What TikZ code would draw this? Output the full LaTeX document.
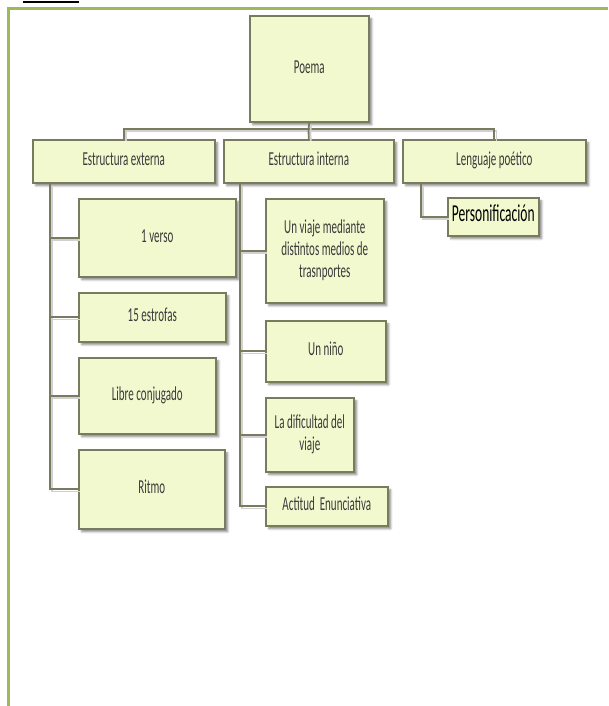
\documentclass[tikz,border=0pt]{standalone}
\usepackage{fontspec}
\setmainfont{Carlito}
\usetikzlibrary{shadows.blur,calc}
\definecolor{boxfill}{HTML}{F2F9CF}
\definecolor{boxline}{HTML}{7A7B5E}
\definecolor{boxtext}{HTML}{3A3A3A}
\definecolor{pageframe}{HTML}{9BBB59}
% text set in Carlito and stretched vertically
\newcommand{\talltext}[2][11]{\scalebox{1}[1.8]{\fontsize{#1}{12.2}\selectfont\begin{tabular}{@{}c@{}}#2\end{tabular}}}
\begin{document}
\begin{tikzpicture}[x=1pt,y=-1pt,
  orgbox/.style={draw=boxline, line width=1.6pt, fill=boxfill, text=boxtext,
    anchor=north west, inner sep=0pt,
    blur shadow={shadow xshift=3pt, shadow yshift=-3pt, shadow blur steps=6, shadow opacity=45}},
  sz/.style 2 args={minimum width=#1pt, minimum height=#2pt},
  link/.style={draw=boxline, line width=1.8pt,
    preaction={draw=black!18, line width=1.6pt, transform canvas={xshift=2pt, yshift=-2pt}}}]
\useasboundingbox (0,0) rectangle (608,706);

% page frame and heading rule
\draw[pageframe, line width=3pt] (8.5,706) -- (8.5,8.5) -- (608,8.5);
\draw[black, line width=2pt] (23,2) -- (79,2);

% root
\node[orgbox, sz={119}{106}] (poema) at (249,15) {\talltext{Poema}};

% second level
\node[orgbox, sz={182}{43}] (ee) at (32,139) {\talltext{Estructura externa}};
\node[orgbox, sz={170}{43}] (ei) at (223,139) {\talltext{Estructura interna}};
\node[orgbox, sz={183}{43}] (lp) at (402,139) {\talltext{Lenguaje poético}};

% external structure
\node[orgbox, sz={157}{78}] (verso) at (78,198) {\talltext{1 verso}};
\node[orgbox, sz={147}{49}] (estrofas) at (78,292) {\talltext{15 estrofas}};
\node[orgbox, sz={137}{76}] (libre) at (78,357) {\talltext{Libre conjugado}};
\node[orgbox, sz={146}{79}] (ritmo) at (78,449) {\talltext{Ritmo}};

% internal structure
\node[orgbox, sz={118}{104}] (viaje) at (265,198) {\talltext{Un viaje mediante\\distintos medios de\\trasnportes}};
\node[orgbox, sz={120}{61}] (nino) at (265,320) {\talltext{Un niño}};
\node[orgbox, sz={88}{74}] (dific) at (265,397) {\talltext{La dificultad del\\viaje}};
\node[orgbox, sz={122}{39}] (actitud) at (265,486) {\talltext{Actitud\ \ Enunciativa}};

% poetic language
\node[orgbox, sz={91}{38}, text=black] (perso) at (447,197) {\talltext[13.5]{Personificación}};

% connectors
\coordinate (hub) at (308.5,129);
\coordinate (eeS) at ($(ee.south west)+(18,0)$);
\coordinate (eiS) at ($(ei.south west)+(17,0)$);
\coordinate (lpS) at ($(lp.south west)+(19,0)$);

\draw[link] (ee.north) |- (hub) -| (lp.north);
\draw[link] (poema.south) -- (hub) -- (ei.north);

\draw[link] (eeS) |- (ritmo.west);
\draw[link] (eeS |- verso.west) -- (verso.west);
\draw[link] (eeS |- estrofas.west) -- (estrofas.west);
\draw[link] (eeS |- libre.west) -- (libre.west);

\draw[link] (eiS) |- (actitud.west);
\draw[link] (eiS |- viaje.west) -- (viaje.west);
\draw[link] (eiS |- nino.west) -- (nino.west);
\draw[link] (eiS |- dific.west) -- (dific.west);

\draw[link] (lpS) |- (perso.west);
\end{tikzpicture}
\end{document}
